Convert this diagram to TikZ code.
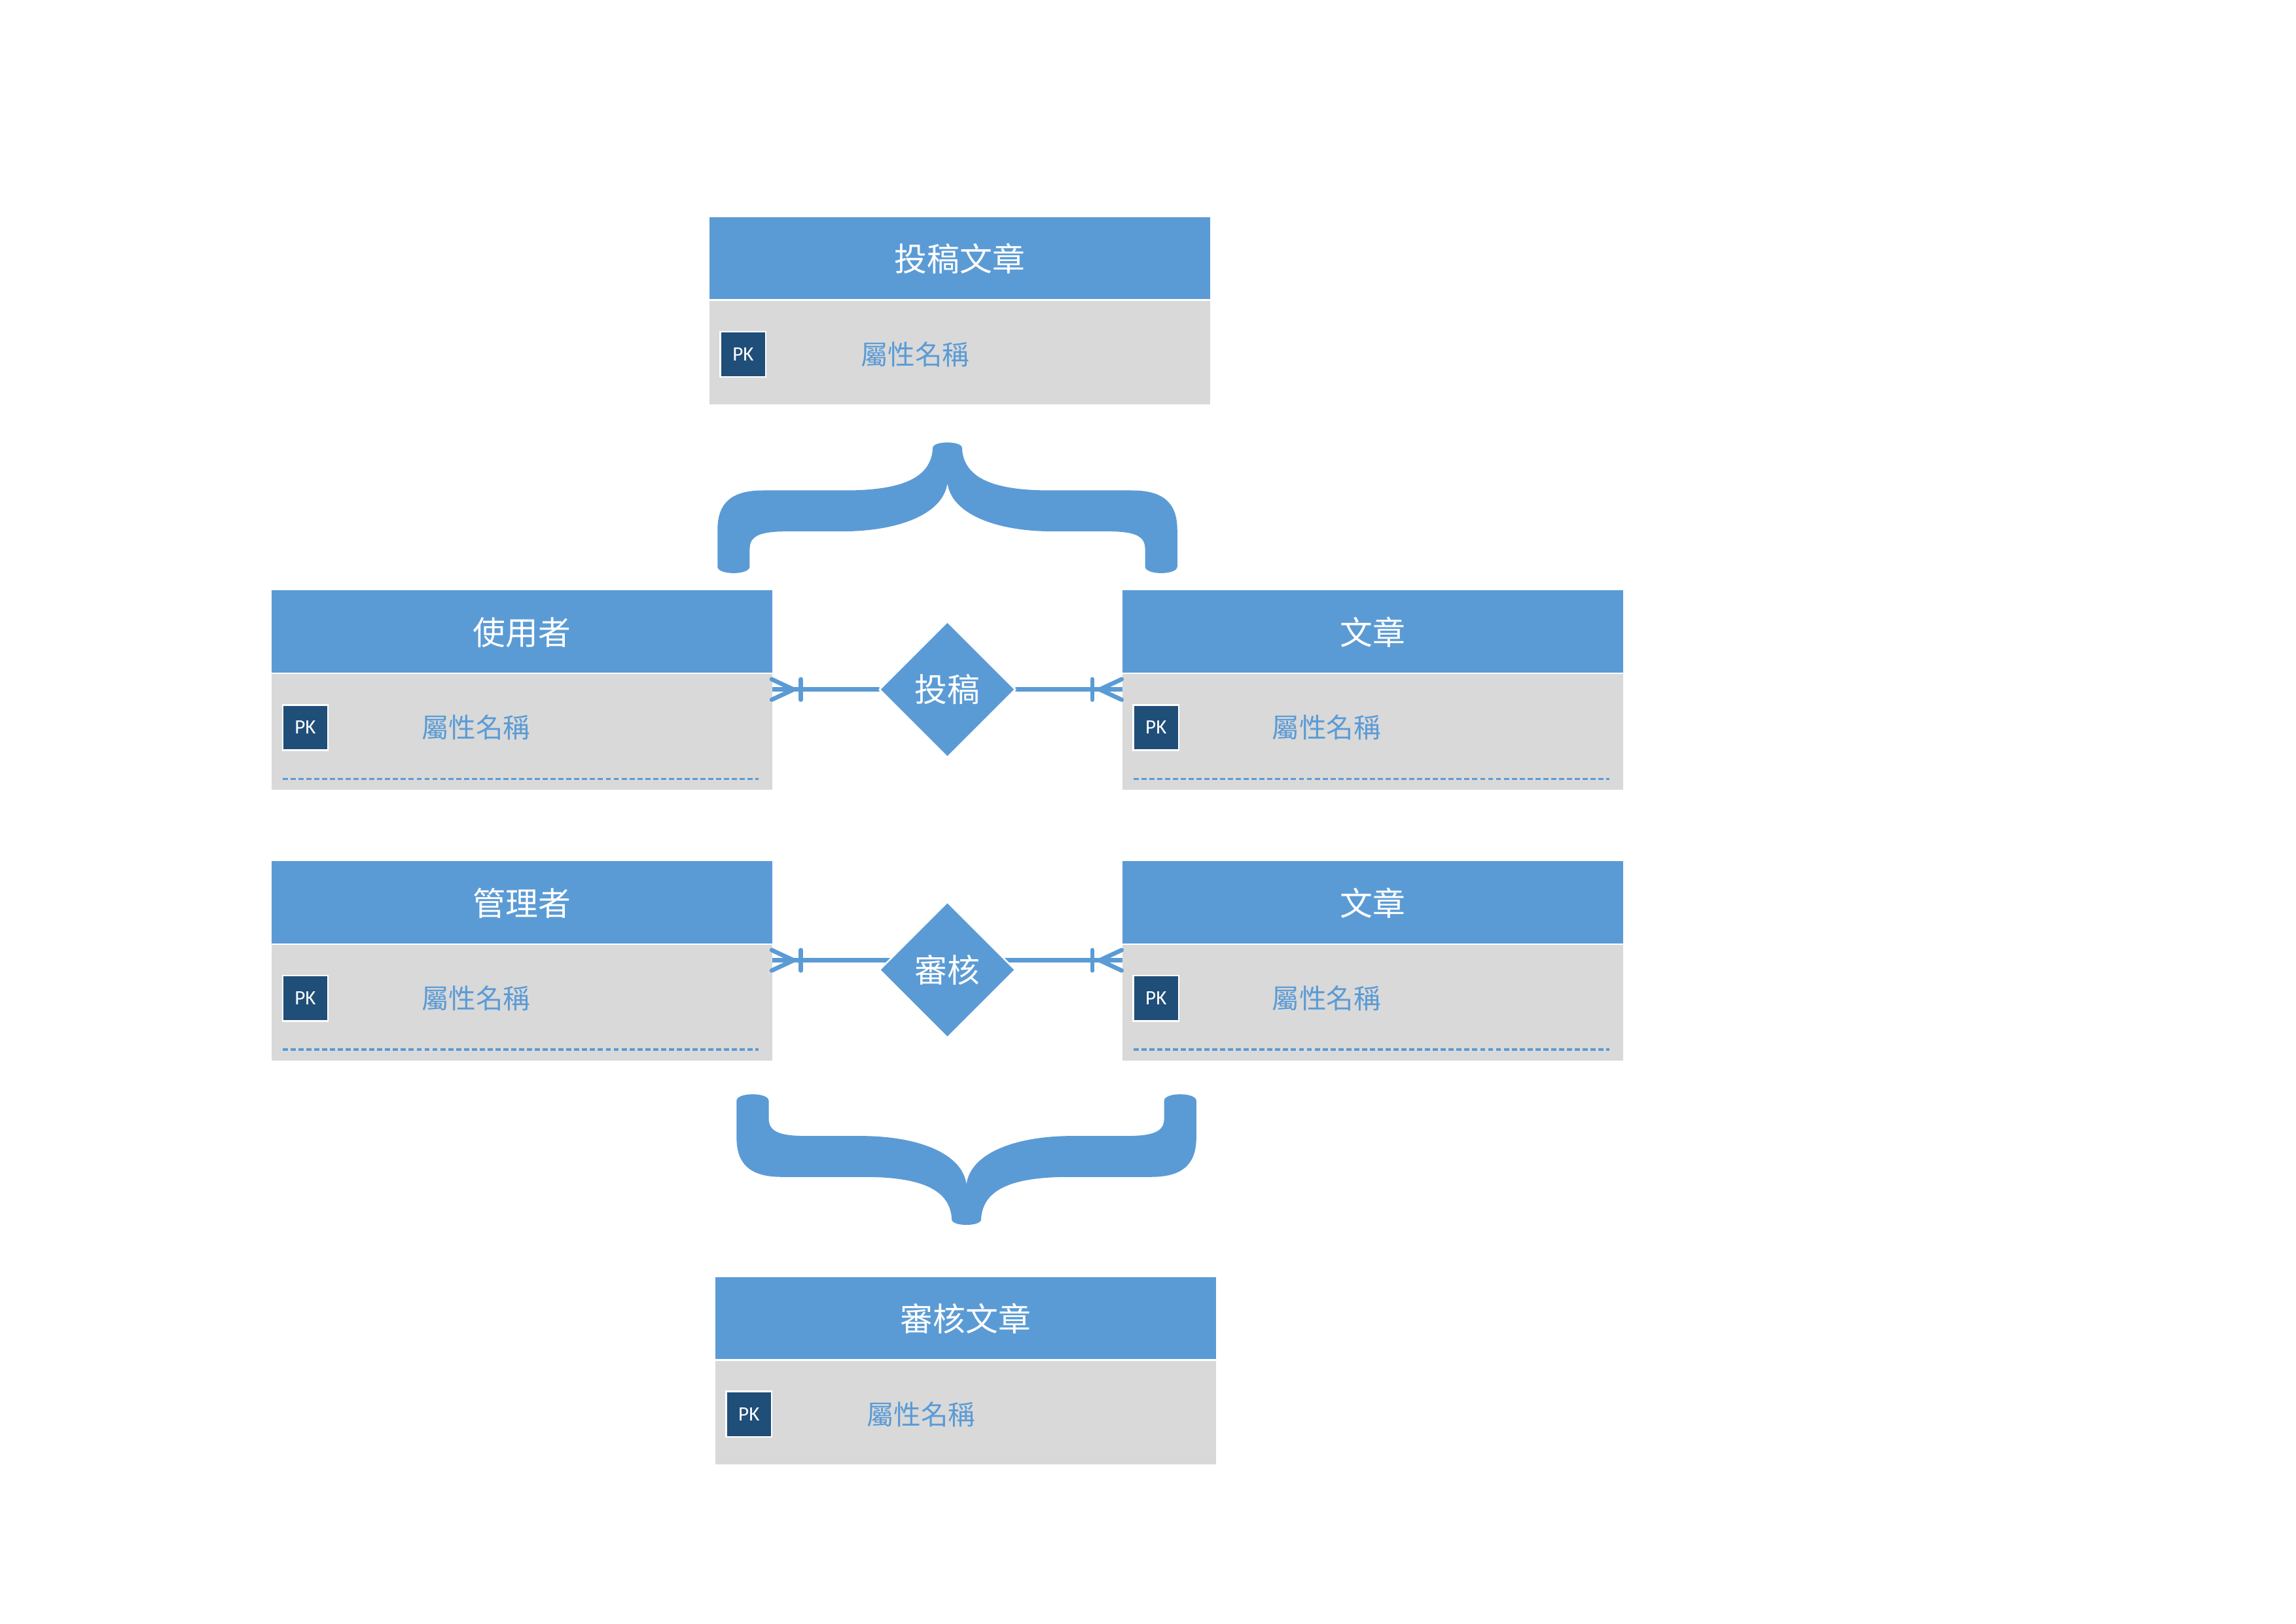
\documentclass[tikz,border=0pt]{standalone}
\usepackage{fontspec}
\setmainfont{Noto Sans CJK TC}
\newfontfamily\pkfont{Carlito}
\usetikzlibrary{shapes.geometric,backgrounds}

\definecolor{erblue}{HTML}{5B9BD5}
\definecolor{ergray}{HTML}{D9D9D9}
\definecolor{pkblue}{HTML}{1F4E79}

\tikzset{
	hdr/.style={anchor=north west, fill=erblue, text=white, minimum width=6.478cm, minimum height=1.08cm, inner sep=0pt, font=\fontsize{12}{14}\selectfont},
	tblbody/.style={anchor=north west, fill=ergray, minimum width=6.478cm, inner sep=0pt},
	pkbox/.style={fill=pkblue, draw=white, line width=0.6pt, text=white, minimum size=0.587cm, inner sep=0pt, font=\pkfont\fontsize{7.5}{9}\selectfont},
	attr/.style={text=erblue, inner sep=0pt, font=\fontsize{10}{12}\selectfont},
	rel/.style={diamond, aspect=1, fill=erblue, draw=white, line width=0.6pt, text=white, minimum size=1.762cm, inner sep=0pt, font=\fontsize{12}{14}\selectfont},
	link/.style={draw=erblue, line width=1.6pt, line cap=round},
	keyline/.style={draw=erblue, line width=0.8pt, dash pattern=on 1.9pt off 1pt},
	sepline/.style={draw=white, line width=0.6pt}
}

\newcommand{\erbrace}{(-10,4) .. controls (-11,24) and (-30,33) .. (-70,33) -- (-126,33)
	.. controls (-148,33) and (-157,42) .. (-157,60) -- (-157,85)
	.. controls (-157,91) and (-135,91) .. (-135,85) -- (-135,73)
	.. controls (-135,64) and (-128,61) .. (-109,61) -- (-72,61)
	.. controls (-35,61) and (-3,50) .. (0,28)
	.. controls (3,50) and (35,61) .. (72,61) -- (109,61)
	.. controls (128,61) and (135,64) .. (135,73) -- (135,85)
	.. controls (135,91) and (157,91) .. (157,85) -- (157,60)
	.. controls (157,42) and (148,33) .. (126,33) -- (70,33)
	.. controls (30,33) and (11,24) .. (10,4)
	.. controls (10,-1) and (-10,-1) .. (-10,4) -- cycle}

\begin{document}
\begin{tikzpicture}[x=0.018941cm, y=-0.018941cm]
	\useasboundingbox (0,0) rectangle (1568,1109);

	\node[hdr] (postart) at (484,148) {投稿文章};
	\node[tblbody, minimum height=1.345cm] (postart-b) at (484,205) {};
	\draw[sepline] (postart-b.north west) -- (postart-b.north east);
	\node[pkbox] (postart-pk) at (507.5,242) {PK};
	\node[attr] (postart-at) at (625,242) {屬性名稱};

	\node[hdr] (user) at (185,403) {使用者};
	\node[tblbody, minimum height=1.496cm] (user-b) at (185,460) {};
	\draw[sepline] (user-b.north west) -- (user-b.north east);
	\node[pkbox] (user-pk) at (208.5,497) {PK};
	\node[attr] (user-at) at (325,497) {屬性名稱};
	\draw[keyline] (193,532) -- (518,532);

	\node[hdr] (art1) at (766,403) {文章};
	\node[tblbody, minimum height=1.496cm] (art1-b) at (766,460) {};
	\draw[sepline] (art1-b.north west) -- (art1-b.north east);
	\node[pkbox] (art1-pk) at (789.5,497) {PK};
	\node[attr] (art1-at) at (906,497) {屬性名稱};
	\draw[keyline] (774,532) -- (1099,532);

	\node[hdr] (admin) at (185,588) {管理者};
	\node[tblbody, minimum height=1.496cm] (admin-b) at (185,645) {};
	\draw[sepline] (admin-b.north west) -- (admin-b.north east);
	\node[pkbox] (admin-pk) at (208.5,682) {PK};
	\node[attr] (admin-at) at (325,682) {屬性名稱};
	\draw[keyline] (193,717) -- (518,717);

	\node[hdr] (art2) at (766,588) {文章};
	\node[tblbody, minimum height=1.496cm] (art2-b) at (766,645) {};
	\draw[sepline] (art2-b.north west) -- (art2-b.north east);
	\node[pkbox] (art2-pk) at (789.5,682) {PK};
	\node[attr] (art2-at) at (906,682) {屬性名稱};
	\draw[keyline] (774,717) -- (1099,717);

	\node[hdr] (reviewart) at (488,872) {審核文章};
	\node[tblbody, minimum height=1.345cm] (reviewart-b) at (488,929) {};
	\draw[sepline] (reviewart-b.north west) -- (reviewart-b.north east);
	\node[pkbox] (reviewart-pk) at (511.5,966) {PK};
	\node[attr] (reviewart-at) at (629,966) {屬性名稱};

	\node[rel] (post) at (647,471) {投稿};
	\node[rel] (review) at (647,662.5) {審核};

	\coordinate (userE) at (527,471);
	\coordinate (art1W) at (766,471);
	\coordinate (adminE) at (527,656);
	\coordinate (art2W) at (766,656);

	\begin{scope}[on background layer]
		\draw[link] (userE) -- (post);
		\draw[link] (post) -- (art1W);
		\draw[link] (adminE) -- (adminE -| review);
		\draw[link] (review.center |- art2W) -- (art2W);
	\end{scope}

	\draw[link] (userE) ++(0,-7) -- ++(15,7) -- ++(-15,7);
	\draw[link] (userE) ++(20,-7) -- ++(0,14);
	\draw[link] (art1W) ++(0,-7) -- ++(-15,7) -- ++(15,7);
	\draw[link] (art1W) ++(-20,-7) -- ++(0,14);
	\draw[link] (adminE) ++(0,-7) -- ++(15,7) -- ++(-15,7);
	\draw[link] (adminE) ++(20,-7) -- ++(0,14);
	\draw[link] (art2W) ++(0,-7) -- ++(-15,7) -- ++(15,7);
	\draw[link] (art2W) ++(-20,-7) -- ++(0,14);

	\fill[erblue, shift={(647,302)}] \erbrace;
	\fill[erblue, shift={(660,837)}, yscale=-1] \erbrace;
\end{tikzpicture}
\end{document}
